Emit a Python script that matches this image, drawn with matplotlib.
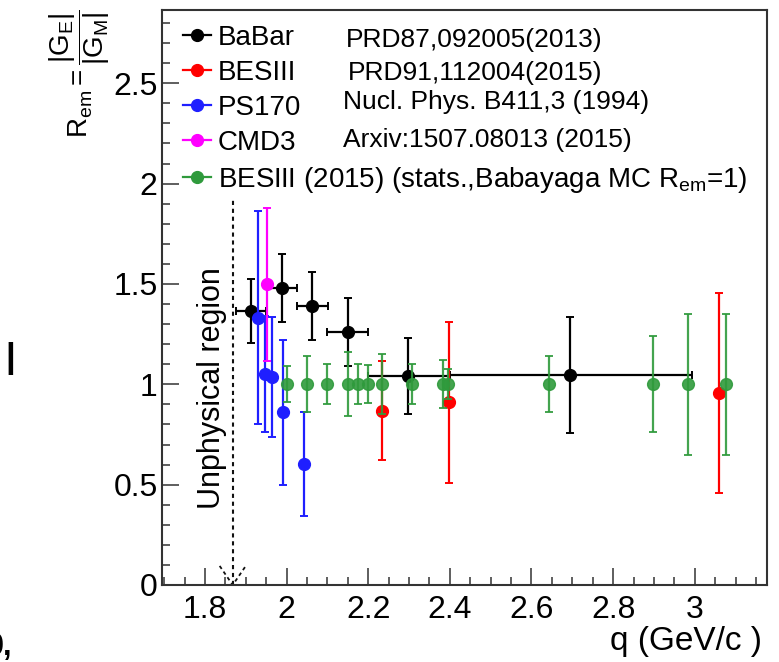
import matplotlib
matplotlib.use('Agg')
import matplotlib.pyplot as plt
from matplotlib.lines import Line2D
from matplotlib.ticker import MultipleLocator

plt.rcParams['font.family'] = ['Liberation Sans', 'DejaVu Sans']
plt.rcParams['mathtext.fontset'] = 'custom'
plt.rcParams['mathtext.rm'] = 'Liberation Sans'
plt.rcParams['mathtext.it'] = 'Liberation Sans'
plt.rcParams['mathtext.sf'] = 'Liberation Sans'
plt.rcParams['mathtext.bf'] = 'Liberation Sans:bold'

# BaBar, PRD87,092005(2013)
babar_q = [1.912, 1.989, 2.063, 2.151, 2.297, 2.694]
babar_r = [1.365, 1.481, 1.392, 1.262, 1.041, 1.046]
babar_dr = [0.16, 0.17, 0.17, 0.17, 0.19, 0.29]
babar_dq_lo = [0.036, 0.038, 0.038, 0.053, 0.097, 0.294]
babar_dq_hi = [0.038, 0.037, 0.038, 0.049, 0.100, 0.299]

# BESIII, PRD91,112004(2015)
bes_q = [2.233, 2.399, 3.060]
bes_r = [0.869, 0.910, 0.955]
bes_dr = [0.248, 0.401, 0.498]

# PS170
ps_q = [1.929, 1.947, 1.965, 1.992, 2.043]
ps_r = [1.332, 1.050, 1.035, 0.860, 0.603]
ps_dr = [0.53, 0.289, 0.30, 0.363, 0.26]

# CMD3
cmd_q = [1.952]
cmd_r = [1.498]
cmd_dr = [0.38]

# BESIII (2015) projected stats, R_em = 1
mc_q = [2.0, 2.05, 2.10, 2.15, 2.175, 2.20, 2.234, 2.308, 2.384, 2.396,
        2.643, 2.897, 2.984, 3.077]
mc_r = [1.0] * 14
mc_dr = [0.09, 0.14, 0.10, 0.16, 0.10, 0.095, 0.15, 0.10, 0.12, 0.075,
         0.14, 0.24, 0.35, 0.35]

threshold = 1.868  # 2 m_p, end of unphysical region
threshold_top = 1.93

xticks = [1.8, 2.0, 2.2, 2.4, 2.6, 2.8, 3.0]
xticklabels = ['1.8', '2', '2.2', '2.4', '2.6', '2.8', '3']
yticks = [0, 0.5, 1.0, 1.5, 2.0, 2.5]
yticklabels = ['0', '0.5', '1', '1.5', '2', '2.5']

col_babar = 'black'
col_bes = '#ff0000'
col_ps = '#1f1fff'
col_cmd = '#ff00ff'
col_mc = '#2f9a3c'

W, H = 779, 662
fig = plt.figure(figsize=(W / 100, H / 100), dpi=100)
ax = fig.add_axes([161.7 / W, 1 - 585 / H, (767 - 161.7) / W, (585 - 10) / H])

eb = dict(fmt='o', ms=8.5, capsize=3, elinewidth=1.6, capthick=1.4)
ax.errorbar(babar_q, babar_r, yerr=babar_dr, xerr=[babar_dq_lo, babar_dq_hi],
            color=col_babar, zorder=3, **eb)
ax.errorbar(bes_q, bes_r, yerr=bes_dr, color=col_bes, zorder=4, **eb)
ax.errorbar(ps_q, ps_r, yerr=ps_dr, color=col_ps, zorder=5, **eb)
ax.errorbar(cmd_q, cmd_r, yerr=cmd_dr, color=col_cmd, zorder=6, **eb)
ax.errorbar(mc_q, mc_r, yerr=mc_dr, color=col_mc, alpha=0.9, zorder=7, **eb)

# unphysical region marker
dash = (0, (2.0, 1.8))
ax.plot([threshold, threshold], [0, threshold_top], color='#111111', lw=1.5, ls=dash)
ax.plot([threshold - 0.032, threshold, threshold + 0.032], [0.095, 0, 0.095],
        color='#111111', lw=1.3, ls=dash)
ax.text(1.818, 0.981, 'Unphysical region', rotation=90, ha='center', va='center',
        fontsize=22)

ax.set_xlim(1.694, 3.177)
ax.set_ylim(0, 2.865)
ax.set_xticks(xticks)
ax.set_xticklabels(xticklabels)
ax.set_yticks(yticks)
ax.set_yticklabels(yticklabels)
ax.xaxis.set_minor_locator(MultipleLocator(0.05))
ax.yaxis.set_minor_locator(MultipleLocator(0.1))
ax.tick_params(which='both', direction='in', top=False, right=False,
               labelsize=23, color='#333333')
ax.tick_params(which='major', length=12, width=1.1)
ax.tick_params(which='minor', length=6, width=1.1)
ax.tick_params(axis='x', pad=7)
ax.tick_params(axis='y', pad=3)
for s in ax.spines.values():
    s.set_color('#333333')
    s.set_linewidth(1.5)

# legend
handles = [Line2D([], [], color=c, marker='o', ms=8.5, lw=1.6)
           for c in [col_babar, col_bes, col_ps, col_cmd, col_mc]]
labels = ['BaBar', 'BESIII', 'PS170', 'CMD3',
          r'BESIII (2015) (stats.,Babayaga MC R$_{em}$=1)']
fig.legend(handles, labels, loc='upper left', bbox_to_anchor=(183 / W, 1 - 25 / H),
           frameon=False, fontsize=20, borderpad=0, borderaxespad=0,
           handlelength=1.0, handletextpad=0.25, labelspacing=0.32)

refs = [('PRD87,092005(2013)', 346, 47),
        ('PRD91,112004(2015)', 348, 80),
        ('Nucl. Phys. B411,3 (1994)', 343, 109),
        ('Arxiv:1507.08013 (2015)', 343, 147)]
for txt, px, py in refs:
    fig.text(px / W, 1 - py / H, txt, fontsize=19, ha='left', va='baseline')

fig.text(80 / W, 1 - 74 / H, r'$\mathrm{R_{em}=\dfrac{|G_{E}|}{|G_{M}|}}$',
         rotation=90, ha='center', va='center', fontsize=20)
fig.text(610 / W, 1 - 650 / H, 'q (GeV/c )', fontsize=24, ha='left', va='baseline')

# bits of slide text cut off at the left edge
fig.text(10 / W, 1 - 358 / H, '|', fontsize=25, fontweight='bold', ha='center', va='center')
fig.text(-13 / W, 1 - 655 / H, '0,', fontsize=22, fontweight='bold', ha='left', va='baseline')

fig.savefig('out.png', dpi=100)
